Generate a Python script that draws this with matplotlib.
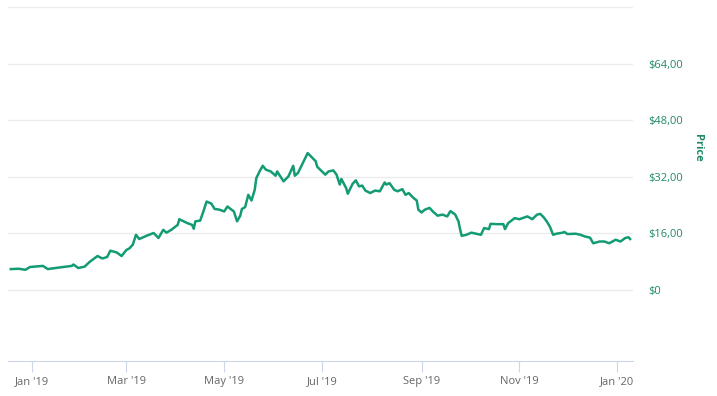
import matplotlib
matplotlib.use("Agg")
import matplotlib.pyplot as plt
import numpy as np
import pandas as pd

# days counted from 2019-01-01, price in dollars
days = [-13, -8, -4, -1, 7, 10, 18, 25, 26, 29, 33, 36, 41, 44, 47, 49, 53, 56, 59,
        61, 63, 65, 67, 72, 76, 79, 82, 84, 87, 91, 92, 97, 100, 101, 102, 105, 107,
        109, 112, 114, 117, 120, 122, 126, 128, 130, 131, 133, 135, 137, 139, 140,
        142, 144, 146, 149, 152, 153, 157, 160, 163, 164, 166, 169, 172, 175, 177,
        178, 181, 183, 185, 188, 190, 192, 193, 196, 197, 200, 202, 204, 206, 208,
        211, 214, 217, 220, 221, 223, 226, 228, 231, 233, 235, 238, 240, 241, 243,
        245, 248, 250, 253, 256, 259, 261, 264, 266, 267, 268, 271, 274, 277, 280,
        282, 285, 286, 290, 294, 295, 297, 301, 304, 307, 309, 312, 315, 317, 319,
        321, 323, 325, 327, 331, 332, 334, 339, 342, 345, 348, 350, 354, 357, 360,
        364, 367, 370, 372, 373]
prices = [5.9, 6.0, 5.7, 6.5, 6.8, 5.9, 6.4, 6.8, 7.2, 6.2, 6.6, 7.9, 9.6, 8.9, 9.3,
          11.1, 10.6, 9.6, 11.3, 11.8, 12.8, 15.6, 14.4, 15.4, 16.1, 14.7, 17.0, 16.2,
          17.0, 18.4, 20.0, 18.9, 18.4, 17.3, 19.4, 19.6, 22.2, 25.0, 24.4, 22.9, 22.7,
          22.2, 23.6, 22.2, 19.4, 21.0, 22.9, 23.4, 26.9, 25.3, 28.3, 31.6, 33.5, 35.1,
          34.0, 33.5, 32.3, 33.5, 30.7, 32.1, 35.1, 32.3, 33.1, 35.9, 38.7, 37.3, 36.4,
          34.8, 33.5, 32.6, 33.5, 33.8, 32.6, 29.8, 31.4, 28.8, 27.2, 30.0, 31.0, 29.3,
          29.5, 28.1, 27.4, 28.1, 27.9, 30.4, 29.8, 30.2, 28.3, 27.9, 28.5, 26.9, 27.4,
          26.0, 25.3, 22.7, 21.9, 22.7, 23.2, 22.2, 21.0, 21.3, 20.8, 22.3, 21.3, 19.4,
          17.2, 15.3, 15.6, 16.2, 15.9, 15.6, 17.5, 17.2, 18.7, 18.6, 18.6, 17.2, 18.9,
          20.3, 20.0, 20.5, 20.8, 20.0, 21.3, 21.5, 20.6, 19.4, 17.9, 15.6, 15.9, 16.2,
          16.4, 15.8, 15.9, 15.6, 15.1, 14.8, 13.2, 13.7, 13.7, 13.2, 14.2, 13.7, 14.7,
          14.9, 14.4]

y_ticks = [0, 16, 32, 48, 64]
y_labels = ["$0", "$16,00", "$32,00", "$48,00", "$64,00"]
x_ticks = ["2019-01-01", "2019-03-01", "2019-05-01", "2019-07-01", "2019-09-01",
           "2019-11-01", "2020-01-01"]
x_labels = ["Jan '19", "Mar '19", "May '19", "Jul '19", "Sep '19", "Nov '19", "Jan '20"]

dates = pd.Timestamp("2019-01-01") + pd.to_timedelta(days, unit="D")

green = "#139b74"
label_green = "#1f8a64"
plt.rcParams['font.family'] = ['Open Sans', 'DejaVu Sans']

fig = plt.figure(figsize=(7.17, 3.96), dpi=100)
ax = fig.add_axes([8.3 / 717, 35.3 / 396, (633 - 8.3) / 717, (389 - 35.3) / 396])

# light horizontal grid, incl. the unlabeled top line
for v in y_ticks + [80]:
    ax.axhline(v, color="#ebebeb", lw=1, zorder=0)

ax.plot(dates, prices, color=green, lw=1.8, solid_joinstyle="round")

ax.set_xlim(pd.Timestamp("2019-01-01") - pd.Timedelta(days=14.6),
            pd.Timestamp("2019-01-01") + pd.Timedelta(days=374.8))
ax.set_ylim(-20, 80)

for s in ["top", "left", "right"]:
    ax.spines[s].set_visible(False)
ax.spines["bottom"].set_color("#ccd6eb")

ax.set_xticks(pd.to_datetime(x_ticks))
ax.set_xticklabels(x_labels, color="#666666", fontsize=8)
ax.tick_params(axis="x", length=8, color="#ccd6eb", pad=3)

ax.yaxis.tick_right()
ax.set_yticks(y_ticks)
ax.set_yticklabels(y_labels, color=label_green, fontsize=8)
ax.tick_params(axis="y", length=0, pad=11)

fig.text(697 / 717, 1 - 148 / 396, "Price", rotation=270, color=label_green,
         fontsize=8, fontweight="bold", ha="center", va="center")

fig.savefig("out.png", dpi=100)
